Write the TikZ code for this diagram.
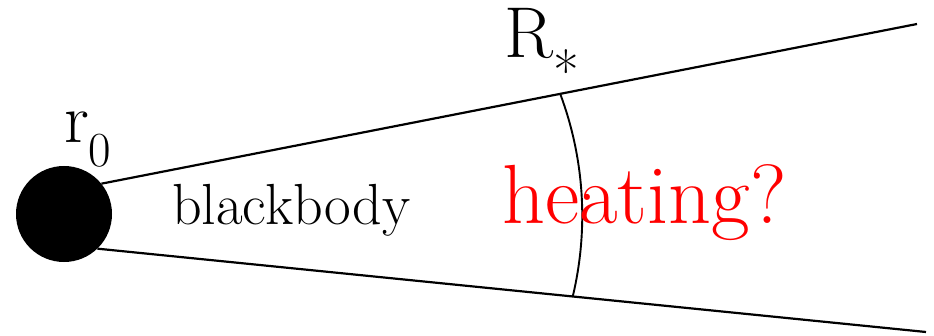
\documentclass[tikz,border=0pt]{standalone}
\usepackage{fontspec}
\begin{document}
\begin{tikzpicture}[x=1pt,y=1pt,
  ray/.style={line width=2.2pt},
  lbl/.style={inner sep=0pt,anchor=base west}]
\useasboundingbox (0,0) rectangle (934,335);
\node[circle,fill=black,minimum size=96pt,inner sep=0pt] (src) at (64,121) {};
\coordinate (topend) at (917,311);
\coordinate (lowend) at (926,3);
\draw[ray] (src.39) -- (topend);
\draw[ray] (src.-46) -- (lowend);
\coordinate (cut) at (560,241.7);
\draw[line width=1.9pt] (cut) arc[start angle=20.6,end angle=-13.4,radius=348];
\node[lbl] (r0) at (64,192) {\fontsize{70}{72}\selectfont r\textsubscript{0}};
\node[lbl] (bb) at (172,111) {\fontsize{58}{60}\selectfont blackbody};
\node[lbl,text=red] (heat) at (502,112) {\fontsize{84}{88}\selectfont heating?};
\node[lbl] (rstar) at (504,277) {\fontsize{72}{74}\selectfont R\raisebox{-34pt}{\fontsize{56}{56}\selectfont *}};
\end{tikzpicture}
\end{document}
